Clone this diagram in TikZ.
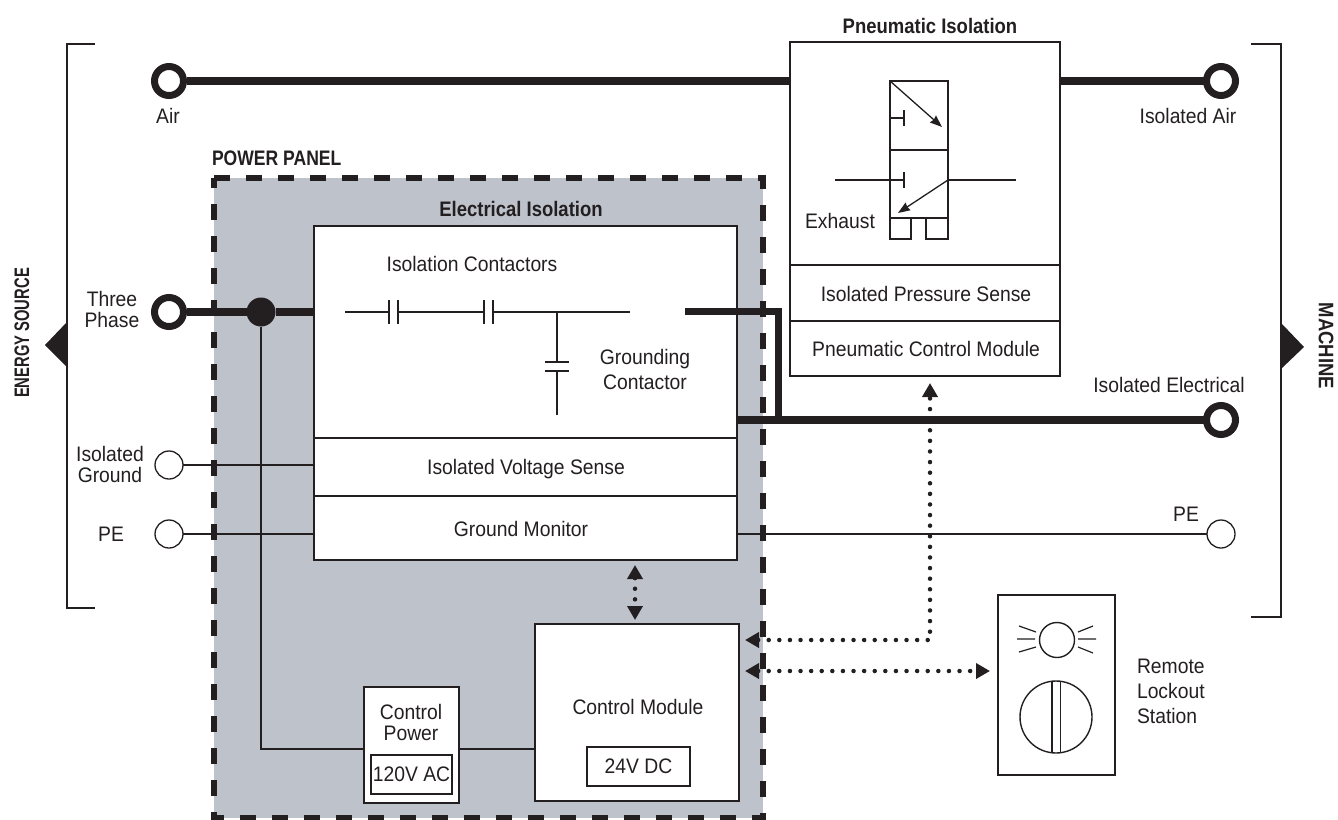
\documentclass[tikz,border=0pt]{standalone}
\usepackage{fontspec}
\setmainfont[FakeStretch=0.92]{Liberation Sans}
\newfontfamily\boldfam[FakeStretch=0.88,UprightFont={* Bold}]{Liberation Sans}
\usetikzlibrary{arrows.meta,calc}
\definecolor{ink}{HTML}{231F20}
\definecolor{panelgray}{HTML}{BEC2CB}
\tikzset{
  lbl/.style={inner sep=0pt,outer sep=0pt,text=ink,font=\fontsize{21}{21}\selectfont,align=center},
  lblb/.style={lbl,font=\fontsize{21}{21}\boldfam\selectfont},
  box/.style={draw=ink,line width=2.7pt,fill=white,inner sep=0pt,outer sep=0pt},
  subbox/.style={draw=ink,line width=1.3pt,fill=white,inner sep=0pt,outer sep=0pt,lbl},
  thin line/.style={draw=ink,line width=1.3pt},
  fat line/.style={draw=ink,line width=7.5pt},
  bigring/.style={circle,draw=ink,line width=7pt,fill=white,minimum size=29pt,inner sep=0pt,outer sep=3pt},
  smallring/.style={circle,draw=ink,line width=1.3pt,fill=white,minimum size=28pt,inner sep=0pt,outer sep=0pt},
  dots/.style={draw=ink,line width=4.5pt,line cap=round,dash pattern=on 0pt off 10.6pt,
    {Triangle[length=14pt,width=15pt,fill=ink]}-{Triangle[length=14pt,width=15pt,fill=ink]},
    shorten <=0pt,shorten >=0pt},
  tip/.style={-{Stealth[length=12pt,width=9pt,inset=1pt,fill=ink]}},
}
\begin{document}
\begin{tikzpicture}[x=1pt,y=-1pt]
\useasboundingbox (0,0) rectangle (1338,819);
% panel
\node[draw=none,fill=panelgray,minimum width=549pt,minimum height=640pt,inner sep=0pt,outer sep=0pt] (panelfill) at (488.5,498) {};
% brackets and side arrows
\coordinate (bl1) at (95,44); \coordinate (bl2) at (67,44); \coordinate (bl3) at (67,608); \coordinate (bl4) at (95,608);
\draw[thin line] (bl1) -- (bl2) -- (bl3) -- (bl4);
\coordinate (br1) at (1251,44); \coordinate (br2) at (1281,44); \coordinate (br3) at (1281,617); \coordinate (br4) at (1251,617);
\draw[thin line] (br1) -- (br2) -- (br3) -- (br4);
\fill[ink] (45,345) -- (67,322) -- (67,367) -- cycle;
\fill[ink] (1304,347) -- (1282,324) -- (1282,368) -- cycle;
% main boxes
\node[box,minimum width=270pt,minimum height=334pt] (pneu) at (925,209) {};
\node[box,minimum width=423pt,minimum height=334pt] (elec) at (525.5,393) {};
\node[box,minimum width=95pt,minimum height=116pt] (cp) at (411.5,745) {};
\node[subbox,minimum width=81pt,minimum height=39pt] (ac) at (411.5,774.5) {120V AC};
\node[box,minimum width=204pt,minimum height=177pt] (cm) at (637,712.5) {};
\node[subbox,minimum width=103pt,minimum height=39pt] (dc) at (638.5,766.5) {24V DC};
\node[box,line width=1.8pt,minimum width=117pt,minimum height=180pt] (remote) at (1056.5,685) {};
% terminals
\node[bigring] (air) at (169,81) {};
\node[bigring] (isoair) at (1221,81) {};
\node[bigring] (three) at (169,312) {};
\node[bigring] (isoel) at (1221,420) {};
\node[smallring] (isognd) at (169,465) {};
\node[smallring] (peL) at (169,534) {};
\node[smallring] (peR) at (1221,534) {};
\node[circle,fill=ink,minimum size=29pt,inner sep=0pt,outer sep=0pt] (junction) at (261,312) {};
% box dividers
\draw[thin line] (elec.west |- 0,438) -- (elec.east |- 0,438);
\draw[thin line] (elec.west |- 0,496) -- (elec.east |- 0,496);
\draw[thin line] (pneu.west |- 0,265) -- (pneu.east |- 0,265);
\draw[thin line] (pneu.west |- 0,321) -- (pneu.east |- 0,321);
% heavy connectors
\draw[fat line] (air.east) -- (air.east -| pneu.west);
\draw[fat line] (pneu.east |- isoair.west) -- (isoair.west);
\draw[fat line] (three.east) -- (junction);
\draw[fat line] (junction) -- (junction -| elec.west);
\draw[fat line] (elec.east |- isoel.west) -- (isoel.west);
\coordinate (fat1) at (685,311); \coordinate (fat2) at (778,311);
\draw[fat line,line width=7pt] (fat1) -- (fat2) -- (fat2 |- isoel.west);
% thin connectors
\draw[thin line] (isognd.east) -- (isognd.east -| elec.west);
\draw[thin line] (peL.east) -- (peL.east -| elec.west);
\draw[thin line] (elec.east |- peR.west) -- (peR.west);
\draw[thin line] (junction) |- (cp.west |- 0,749);
\draw[thin line] (cp.east |- 0,749) -- (cm.west |- 0,749);
% panel border
\draw[ink,line width=5.5pt,dash pattern=on 16pt off 16pt] (214,178) -- (763,178) -- (763,818) -- (214,818) -- cycle;
% contactors
\draw[thin line] (345,312) -- (389,312) (389,300) -- (389,324) (398,300) -- (398,324) (398,312) -- (484,312)
  (484,300) -- (484,324) (493,300) -- (493,324) (493,312) -- (630,312)
  (557,312) -- (557,362) (545,362) -- (569,362) (545,371) -- (569,371) (557,371) -- (557,415);
% valve
\draw[thin line] (890,81) rectangle (948,218) (890,150) -- (948,150)
  (890,218) -- (890,239) -- (911,239) -- (911,218) (926,218) -- (926,239) -- (948,239) -- (948,218)
  (890,118) -- (904,118) (904,110) -- (904,126)
  (835,180) -- (904,180) (904,172) -- (904,188) (948,180) -- (1016,180);
\draw[thin line,tip] (890,81) -- (942,127);
\draw[thin line,tip] (948,180) -- (898,213);
% dotted control links
\coordinate (cmA) at (745,640); \coordinate (cmB) at (745,671);
\coordinate (pnA) at (930,383); \coordinate (elA) at (635,565); \coordinate (cmC) at (635,620);
\coordinate (remA) at (990,671);
\draw[dots] (elA) -- (cmC);
\draw[dots] (cmA) -| (pnA);
\draw[dots] (cmB) -- (remA);
% remote station
\draw[ink,line width=1.4pt] (1057,640) circle (17.5pt);
\draw[ink,line width=1.2pt] (1017,639) -- (1035,639) (1019,626) -- (1036,632) (1019,652) -- (1036,647)
  (1078,632) -- (1093,626) (1078,639) -- (1096,639) (1078,647) -- (1093,653);
\draw[ink,line width=1.4pt] (1056,717) circle (36pt);
\draw[ink,line width=1.2pt] (1052,682) -- (1052,752) (1060.5,682) -- (1060.5,752);
% labels
\node[lbl] (tAir) at (168,116) {Air};
\node[lbl] (tIsoAir) at (1188,116) {Isolated Air};
\node[lbl] (tThree) at (112,309) {Three\\Phase};
\node[lbl] (tIsoEl) at (1169,385) {Isolated Electrical};
\node[lbl] (tIsoG) at (110,464) {Isolated\\Ground};
\node[lbl] (tPeL) at (111,534) {PE};
\node[lbl] (tPeR) at (1186,514) {PE};
\node[lblb,xscale=.95,anchor=west] (tPanel) at (212,158) {POWER PANEL};
\node[lblb] (tElec) at (521,209) {Electrical Isolation};
\node[lblb] (tPneu) at (930,26) {Pneumatic Isolation};
\node[lbl] (tCont) at (472,264) {Isolation Contactors};
\node[lbl,font=\fontsize{21}{25}\selectfont] (tGnd) at (645,369) {Grounding\\Contactor};
\node[lbl] (tVolt) at (526,469) {Isolated Voltage Sense};
\node[lbl] (tMon) at (521,529) {Ground Monitor};
\node[lbl] (tPress) at (926,294) {Isolated Pressure Sense};
\node[lbl] (tPcm) at (926,349) {Pneumatic Control Module};
\node[lbl] (tExh) at (840,221) {Exhaust};
\node[lbl] (tCp) at (411,722) {Control\\Power};
\node[lbl] (tCm) at (638,707) {Control Module};
\node[lbl,align=left,font=\fontsize{21}{25}\selectfont,anchor=west] (tRem) at (1137,691) {Remote\\Lockout\\Station};
\node[lblb,rotate=90,xscale=.8] (tEnergy) at (22,333) {ENERGY SOURCE};
\node[lblb,rotate=-90] (tMachine) at (1326,346) {MACHINE};
\end{tikzpicture}
\end{document}
